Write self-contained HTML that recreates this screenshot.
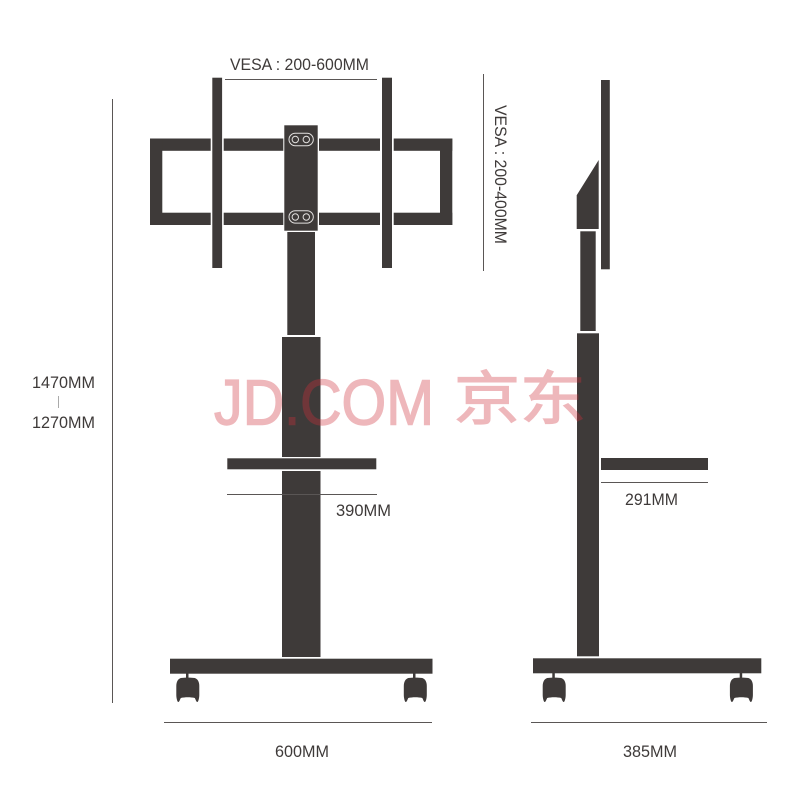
<!DOCTYPE html>
<html>
<head>
<meta charset="utf-8">
<style>
html,body{margin:0;padding:0;background:#fff;width:800px;height:800px;overflow:hidden}
svg{display:block}
text{font-family:"Liberation Sans","Noto Sans CJK SC",sans-serif;fill:#3e3a39;font-size:16.500px}
</style>
</head>
<body>
<svg width="800" height="800" viewBox="0 0 800 800" xmlns="http://www.w3.org/2000/svg">
<defs>
<path id="c" d="M-7,0 C-10,1 -11.500,4 -11.500,8 L-11.500,17 C-11.500,20 -10.500,24 -9.500,24 C-8.500,24 -7.800,21.500 -7,20 C-3,19 3,19 7,20 C7.800,21.500 8.500,24 9.500,24 C10.500,24 11.500,20 11.500,17 L11.500,8 C11.500,4 10,1 7,0 C3,-0.500 -3,-0.500 -7,0 Z"/>
</defs>
<g fill="#3e3a39">
<!-- front: frame -->
<rect x="150" y="138.500" width="60.700" height="12.300"/>
<rect x="150" y="212.700" width="60.700" height="12.300"/>
<rect x="150" y="138.500" width="12.300" height="86.500"/>
<rect x="223.700" y="138.500" width="59.600" height="12.300"/>
<rect x="223.700" y="212.700" width="59.600" height="12.300"/>
<rect x="319" y="138.500" width="61" height="12.300"/>
<rect x="319" y="212.700" width="61" height="12.300"/>
<rect x="393.700" y="138.500" width="58.600" height="12.300"/>
<rect x="393.700" y="212.700" width="58.600" height="12.300"/>
<rect x="440" y="138.500" width="12.300" height="86.500"/>
<!-- VESA bars -->
<rect x="212.300" y="77.700" width="9.800" height="190.300"/>
<rect x="382" y="77.700" width="10" height="190.300"/>
<!-- plate -->
<rect x="284.300" y="125.300" width="33.400" height="105.400"/>
<!-- front pole -->
<rect x="287.300" y="232" width="27.700" height="103"/>
<rect x="282" y="337" width="38.500" height="120"/>
<rect x="227.300" y="458.300" width="149" height="11"/>
<rect x="282" y="471" width="38.500" height="186"/>
<rect x="170" y="658.700" width="262.500" height="15"/>
<rect x="186" y="673" width="2.500" height="6"/>
<rect x="413" y="673" width="2.500" height="6"/>
<use href="#c" x="187.800" y="678"/>
<use href="#c" x="415.300" y="678"/>
<!-- side -->
<rect x="601" y="80" width="8.800" height="189.300"/>
<polygon points="598.700,160 598.700,229 576.700,229 576.700,195.300"/>
<rect x="580.300" y="231.300" width="15.400" height="99.700"/>
<rect x="577" y="333.300" width="22" height="323"/>
<rect x="601" y="458" width="107" height="12"/>
<rect x="533" y="658.300" width="228.300" height="15"/>
<rect x="552.300" y="673" width="2.500" height="6"/>
<rect x="739.700" y="673" width="2.500" height="6"/>
<use href="#c" x="554.200" y="678"/>
<use href="#c" x="741.400" y="678"/>
</g>
<!-- plate slots -->
<g fill="none" stroke="#e2e0df" stroke-width="1">
<rect x="289" y="133.300" width="24.300" height="12.400" rx="6.200"/>
<rect x="289" y="210.700" width="24.300" height="12.400" rx="6.200"/>
<circle cx="295.300" cy="139.500" r="3.200"/>
<circle cx="306.300" cy="139.500" r="3.200"/>
<circle cx="295.300" cy="217" r="3.200"/>
<circle cx="306.300" cy="217" r="3.200"/>
</g>
<!-- dimension lines -->
<g stroke="#5a5655" stroke-width="1" fill="none">
<line x1="225" y1="79.500" x2="377" y2="79.500"/>
<line x1="483.500" y1="74" x2="483.500" y2="271"/>
<line x1="112.500" y1="99" x2="112.500" y2="703"/>
<line x1="227" y1="494.500" x2="377" y2="494.500"/>
<line x1="601" y1="482.500" x2="708" y2="482.500"/>
<line x1="164" y1="722.500" x2="432" y2="722.500"/>
<line x1="531" y1="722.500" x2="767" y2="722.500"/>
<line x1="58.500" y1="396" x2="58.500" y2="408" stroke="#aaa"/>
</g>
<!-- labels -->
<text x="230" y="70" textLength="139" lengthAdjust="spacingAndGlyphs">VESA : 200-600MM</text>
<text transform="translate(495,105) rotate(90)" textLength="139" lengthAdjust="spacingAndGlyphs">VESA : 200-400MM</text>
<text x="32" y="388" textLength="63" lengthAdjust="spacingAndGlyphs">1470MM</text>
<text x="32" y="428" textLength="63" lengthAdjust="spacingAndGlyphs">1270MM</text>
<text x="336" y="516" textLength="55" lengthAdjust="spacingAndGlyphs">390MM</text>
<text x="625" y="505" textLength="53" lengthAdjust="spacingAndGlyphs">291MM</text>
<text x="275" y="757" textLength="54" lengthAdjust="spacingAndGlyphs">600MM</text>
<text x="623" y="757" textLength="54" lengthAdjust="spacingAndGlyphs">385MM</text>
<!-- watermark -->
<g opacity="0.34">
<text x="214" y="424.500" textLength="220" lengthAdjust="spacingAndGlyphs" style="font-size:64px;fill:#d02f3a;stroke:#d02f3a;stroke-width:1.400px">JD.COM</text>
<text transform="translate(454,419) scale(1,0.88)" textLength="132" style="font-size:66px;fill:#d02f3a;stroke:#d02f3a;stroke-width:1.500px;font-family:'Noto Sans CJK SC',sans-serif">京东</text>
</g>
</svg>
</body>
</html>
